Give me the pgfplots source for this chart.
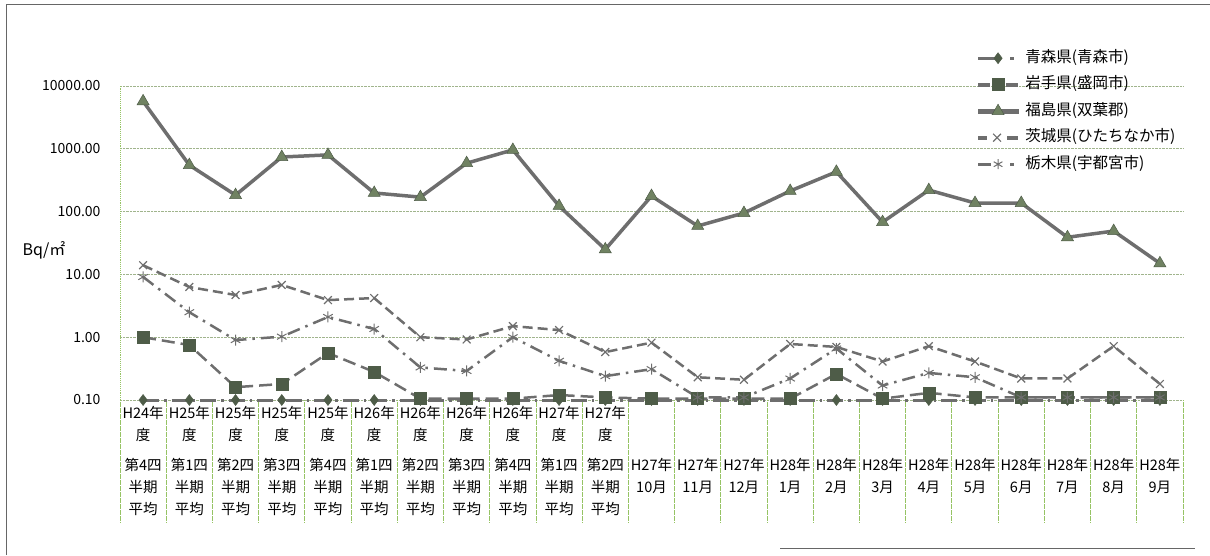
\documentclass[border=0pt]{standalone}
\usepackage{fontspec}
\setmainfont{Noto Sans CJK JP}
\usepackage{pgfplots}
\pgfplotsset{compat=1.18}
\definecolor{lineg}{RGB}{110,110,110}
\definecolor{markg}{RGB}{78,92,72}
\definecolor{trig}{RGB}{112,130,98}
\definecolor{gridc}{RGB}{160,180,140}
\definecolor{sepc}{RGB}{150,195,100}
\begin{document}
\begin{tikzpicture}
\useasboundingbox (0,0) rectangle (1210pt,555pt);
\draw[gray!80!black, line width=1pt] (6pt,0pt) -- (6pt,550pt) -- (1210pt,550pt);
\draw[gray!80!black, line width=1pt] (780pt,7pt) -- (1195pt,7pt);
\node[font=\fontsize{16}{18}\selectfont] at (44pt,305pt) {Bq/㎡};
\begin{axis}[
  at={(120pt,155pt)}, anchor=south west,
  scale only axis, width=1063pt, height=314pt,
  ymode=log, ymin=0.1, ymax=10000,
  xmin=-0.5, xmax=22.5,
  clip=false,
  axis line style={draw=none},
  xtick={0,...,22},
  minor xtick={-0.5,0.5,...,22.5},
  ytick={0.1,1,10,100,1000,10000},
  yticklabels={0.10,1.00,10.00,100.00,1000.00,10000.00},
  yminorticks=false,
  xtick pos=bottom, ytick pos=left,
  major tick length=0pt,
  minor tick length=122pt,
  tick align=outside,
  minor x tick style={draw=sepc, densely dotted, line width=0.9pt},
  ymajorgrids, grid style={draw=gridc, densely dotted, line width=0.9pt},
  yticklabel style={font=\fontsize{14}{16}\selectfont, xshift=-16pt},
  xticklabel style={anchor=north, align=center, yshift=-3pt,
     font=\fontsize{14.5}{22}\selectfont},
  xticklabels={
   {H24年\\度\\[8pt]第4四\\半期\\平均},
   {H25年\\度\\[8pt]第1四\\半期\\平均},
   {H25年\\度\\[8pt]第2四\\半期\\平均},
   {H25年\\度\\[8pt]第3四\\半期\\平均},
   {H25年\\度\\[8pt]第4四\\半期\\平均},
   {H26年\\度\\[8pt]第1四\\半期\\平均},
   {H26年\\度\\[8pt]第2四\\半期\\平均},
   {H26年\\度\\[8pt]第3四\\半期\\平均},
   {H26年\\度\\[8pt]第4四\\半期\\平均},
   {H27年\\度\\[8pt]第1四\\半期\\平均},
   {H27年\\度\\[8pt]第2四\\半期\\平均},
   {\phantom{年}\\\phantom{年}\\[8pt]H27年\\10月},
   {\phantom{年}\\\phantom{年}\\[8pt]H27年\\11月},
   {\phantom{年}\\\phantom{年}\\[8pt]H27年\\12月},
   {\phantom{年}\\\phantom{年}\\[8pt]H28年\\1月},
   {\phantom{年}\\\phantom{年}\\[8pt]H28年\\2月},
   {\phantom{年}\\\phantom{年}\\[8pt]H28年\\3月},
   {\phantom{年}\\\phantom{年}\\[8pt]H28年\\4月},
   {\phantom{年}\\\phantom{年}\\[8pt]H28年\\5月},
   {\phantom{年}\\\phantom{年}\\[8pt]H28年\\6月},
   {\phantom{年}\\\phantom{年}\\[8pt]H28年\\7月},
   {\phantom{年}\\\phantom{年}\\[8pt]H28年\\8月},
   {\phantom{年}\\\phantom{年}\\[8pt]H28年\\9月}},
  legend style={draw=none, fill=none, at={(0.804,1.121)}, anchor=north west,
     font=\fontsize{15.5}{17}\selectfont, row sep=10.5pt,
     nodes={inner sep=1pt, text height=11pt, text depth=3pt},
     /tikz/every odd column/.append style={column sep=6pt}},
  legend cell align=left,
]
\draw[sepc, densely dotted, line width=0.9pt] (rel axis cs:0,0) -- (rel axis cs:0,1);
% Aomori
\addplot[forget plot, draw=lineg, line width=3pt, dash pattern=on 16pt off 5pt on 2.5pt off 5pt,
  mark=diamond*, mark size=5.5pt, mark options={solid, fill=markg, draw=markg, line width=0.5pt}]
  coordinates {(0,0.1)(1,0.1)(2,0.1)(3,0.1)(4,0.1)(5,0.1)(6,0.1)(7,0.1)(8,0.1)(9,0.1)(10,0.1)(11,0.1)
  (12,0.1)(13,0.1)(14,0.1)(15,0.1)(16,0.1)(17,0.1)(18,0.1)(19,0.1)(20,0.1)(21,0.1)(22,0.1)};
% Iwate
\addplot[forget plot, draw=lineg, line width=2.5pt, dash pattern=on 13pt off 6pt,
  mark=square*, mark size=6pt, mark options={solid, fill=markg, draw=markg, line width=0.5pt}]
  coordinates {(0,1.0)(1,0.75)(2,0.16)(3,0.18)(4,0.56)(5,0.28)(6,0.105)(7,0.105)(8,0.105)(9,0.12)(10,0.11)(11,0.105)
  (12,0.105)(13,0.105)(14,0.105)(15,0.26)(16,0.105)(17,0.13)(18,0.11)(19,0.11)(20,0.11)(21,0.11)(22,0.11)};
% Fukushima
\addplot[forget plot, draw=lineg, line width=3.5pt,
  mark=triangle*, mark size=7pt, mark options={solid, fill=trig, draw=markg, line width=0.5pt}]
  coordinates {(0,5700)(1,550)(2,183)(3,740)(4,800)(5,198)(6,170)(7,590)(8,960)(9,123)(10,25)(11,177)
  (12,59)(13,95)(14,213)(15,430)(16,68)(17,220)(18,137)(19,137)(20,39)(21,49)(22,15)};
% Ibaraki
\addplot[forget plot, draw=lineg, line width=2.5pt, dash pattern=on 10pt off 5pt,
  mark=x, mark size=5.5pt, mark options={solid, draw=lineg, line width=1.2pt}]
  coordinates {(0,14)(1,6.3)(2,4.7)(3,6.8)(4,3.9)(5,4.2)(6,1.0)(7,0.92)(8,1.5)(9,1.3)(10,0.58)(11,0.82)
  (12,0.23)(13,0.21)(14,0.78)(15,0.7)(16,0.41)(17,0.72)(18,0.41)(19,0.22)(20,0.22)(21,0.72)(22,0.18)};
% Tochigi
\addplot[forget plot, draw=lineg, line width=2.5pt, dash pattern=on 13pt off 6pt on 2.5pt off 6pt,
  mark=asterisk, mark size=5.5pt, mark options={solid, draw=lineg, line width=1pt}]
  coordinates {(0,9.1)(1,2.5)(2,0.9)(3,1.02)(4,2.1)(5,1.35)(6,0.33)(7,0.29)(8,1.0)(9,0.42)(10,0.24)(11,0.31)
  (12,0.11)(13,0.11)(14,0.22)(15,0.66)(16,0.17)(17,0.27)(18,0.23)(19,0.11)(20,0.11)(21,0.11)(22,0.11)};
% legend images
\addlegendimage{legend image code/.code={
  \fill[lineg] (0pt,-1.4pt) rectangle (18pt,1.4pt);
  \fill[lineg] (32pt,-1.4pt) rectangle (35pt,1.4pt);
  \path[fill=markg, draw=markg, line width=0.5pt] plot[mark=diamond*, mark size=5.5pt, only marks] coordinates {(20pt,0pt)};}}
\addlegendentry{青森県(青森市)}
\addlegendimage{legend image code/.code={
  \fill[lineg] (0pt,-1.3pt) rectangle (11pt,1.3pt);
  \fill[lineg] (28pt,-1.3pt) rectangle (39pt,1.3pt);
  \path[fill=markg, draw=markg, line width=0.5pt] plot[mark=square*, mark size=6pt, only marks] coordinates {(20pt,0pt)};}}
\addlegendentry{岩手県(盛岡市)}
\addlegendimage{legend image code/.code={
  \fill[lineg] (0pt,-1.8pt) rectangle (40pt,1.8pt);
  \path[fill=trig, draw=markg, line width=0.5pt] plot[mark=triangle*, mark size=7pt, only marks] coordinates {(20pt,0pt)};}}
\addlegendentry{福島県(双葉郡)}
\addlegendimage{legend image code/.code={
  \fill[lineg] (0pt,-1.3pt) rectangle (8pt,1.3pt);
  \fill[lineg] (29pt,-1.3pt) rectangle (39pt,1.3pt);
  \path[draw=lineg, line width=1.2pt] plot[mark=x, mark size=5.5pt, only marks] coordinates {(19pt,0pt)};}}
\addlegendentry{茨城県(ひたちなか市)}
\addlegendimage{legend image code/.code={
  \fill[lineg] (0pt,-1.3pt) rectangle (12pt,1.3pt);
  \fill[lineg] (32pt,-1.3pt) rectangle (35pt,1.3pt);
  \path[draw=lineg, line width=1pt] plot[mark=asterisk, mark size=5pt, only marks] coordinates {(20pt,0pt)};}}
\addlegendentry{栃木県(宇都宮市)}
\end{axis}
\end{tikzpicture}
\end{document}
